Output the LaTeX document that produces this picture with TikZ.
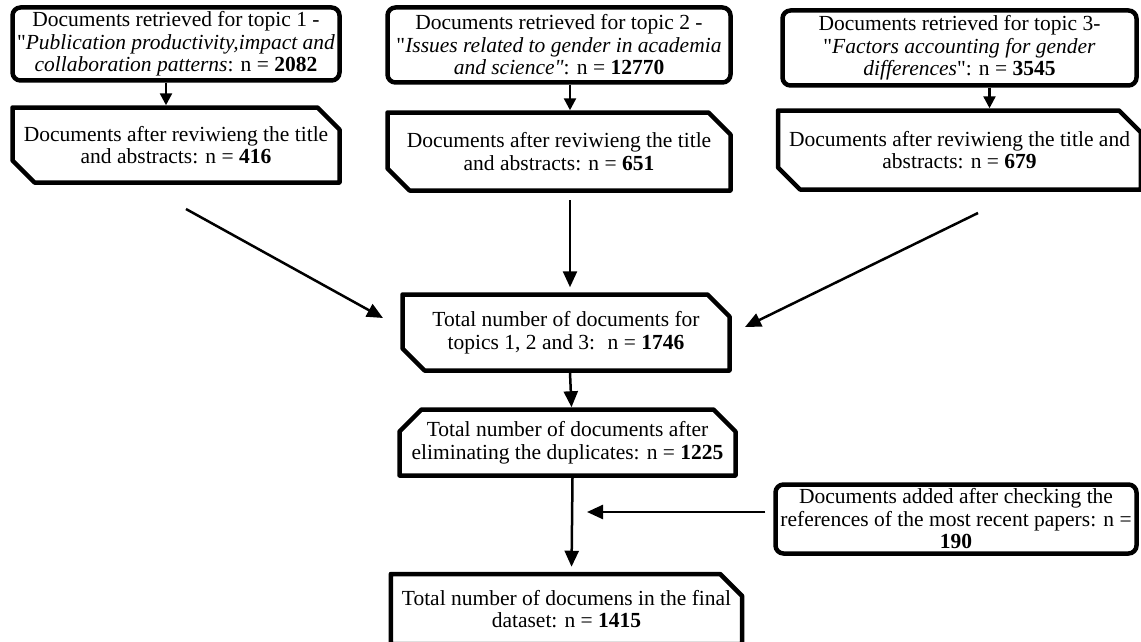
\documentclass[tikz,border=0pt]{standalone}
\usepackage{fontspec}
\setmainfont{Liberation Serif}
\newfontfamily\qfont{Liberation Serif}
\usetikzlibrary{arrows.meta,shapes.misc,calc}
\newcommand{\dq}{{\qfont"}}
\newcommand{\idq}{{\qfont\itshape"}}
\begin{document}
\begin{tikzpicture}[x=1pt,y=-1pt,
  box/.style={draw=black, line width=4.5pt, line join=round, align=center, inner sep=0pt,
    font=\fontsize{21.5}{22.5}\selectfont},
  rbox/.style={box, rectangle, rounded corners=8pt},
  cbox/.style={box, chamfered rectangle, chamfered rectangle xsep=11pt, chamfered rectangle ysep=11pt},
  arr/.style={line width=2.5pt, -{Triangle[length=16pt,width=14pt]}},
  sarr/.style={line width=2.5pt, -{Triangle[length=12pt,width=12pt]}}
]
\useasboundingbox (0,0) rectangle (1141,642);

% top row
\node[rbox, minimum width=327pt, minimum height=73pt] (t1) at (176,44)
  {Documents retrieved for topic 1 -\\ \dq\textit{Publication productivity,impact and}\\ \textit{collaboration patterns}: n = \textbf{2082}};
\node[rbox, minimum width=343pt, minimum height=75pt] (t2) at (559,45)
  {Documents retrieved for topic 2 -\\ \dq\textit{Issues related to gender in academia}\\ \textit{and science\idq}: n = \textbf{12770}};
\node[rbox, minimum width=354pt, minimum height=75pt] (t3) at (959.5,48)
  {Documents retrieved for topic 3-\\ \dq\textit{Factors accounting for gender}\\ \textit{differences}\dq: n = \textbf{3545}};

% second row
\node[cbox, chamfered rectangle corners={north east,south west}, minimum width=327pt, minimum height=75pt] (a1) at (176,145)
  {Documents after reviwieng the title\\ and abstracts: n = \textbf{416}};
\node[cbox, chamfered rectangle corners={north east,south west}, minimum width=343pt, minimum height=78pt] (a2) at (559,151.5)
  {Documents after reviwieng the title\\ and abstracts: n = \textbf{651}};
\node[cbox, chamfered rectangle corners={north east,south west}, minimum width=354pt, minimum height=79pt] (a3) at (959.5,150)
  {Documents after reviwieng the title and\\ abstracts: n = \textbf{679}};

% lower boxes
\node[cbox, chamfered rectangle corners={north east,south west}, minimum width=327pt, minimum height=76pt] (total) at (566,332.5)
  {Total number of documents for\\ topics 1, 2 and 3:~ n = \textbf{1746}};
\node[cbox, chamfered rectangle corners={north east,north west}, minimum width=336pt, minimum height=66pt] (dup) at (567.5,442.5)
  {Total number of documents after\\ eliminating the duplicates: n = \textbf{1225}};
\node[cbox, chamfered rectangle corners={north east}, minimum width=342pt, minimum height=70pt] (final) at (566.5,609)
  {Total number of documens in the final\\ dataset: n = \textbf{1415}};
\node[rbox, minimum width=361pt, minimum height=69pt] (added) at (956,519)
  {Documents added after checking the\\ references of the most recent papers: n =\\ \textbf{190}};

% free ends
\coordinate (s1) at (186,209);
\coordinate (e1) at (383,318);
\coordinate (s2) at (570,200);
\coordinate (s3) at (978,213);
\coordinate (e3) at (745,327);
\coordinate (ej) at (587,512);

% connectors
\draw[sarr] ([xshift=-10pt]t1.south) -- ([xshift=-10pt]a1.north);
\draw[sarr] ([xshift=11pt]t2.south) -- ([xshift=11pt]a2.north);
\draw[sarr] ([xshift=30pt]t3.south) -- ([xshift=30pt]a3.north);
\draw[arr] (s1) -- (e1);
\draw[arr, shorten >=5pt] (s2) -- ([xshift=4pt]total.north);
\draw[arr] (s3) -- (e3);
\draw[arr] ([xshift=4pt]total.south) -- ([xshift=4pt]dup.north);
\draw[arr, shorten >=5pt] ([xshift=5pt]dup.south) -- ([xshift=5pt]final.north);
\draw[arr] ([xshift=-8pt,yshift=7pt]added.west) -- (ej);
\end{tikzpicture}
\end{document}
